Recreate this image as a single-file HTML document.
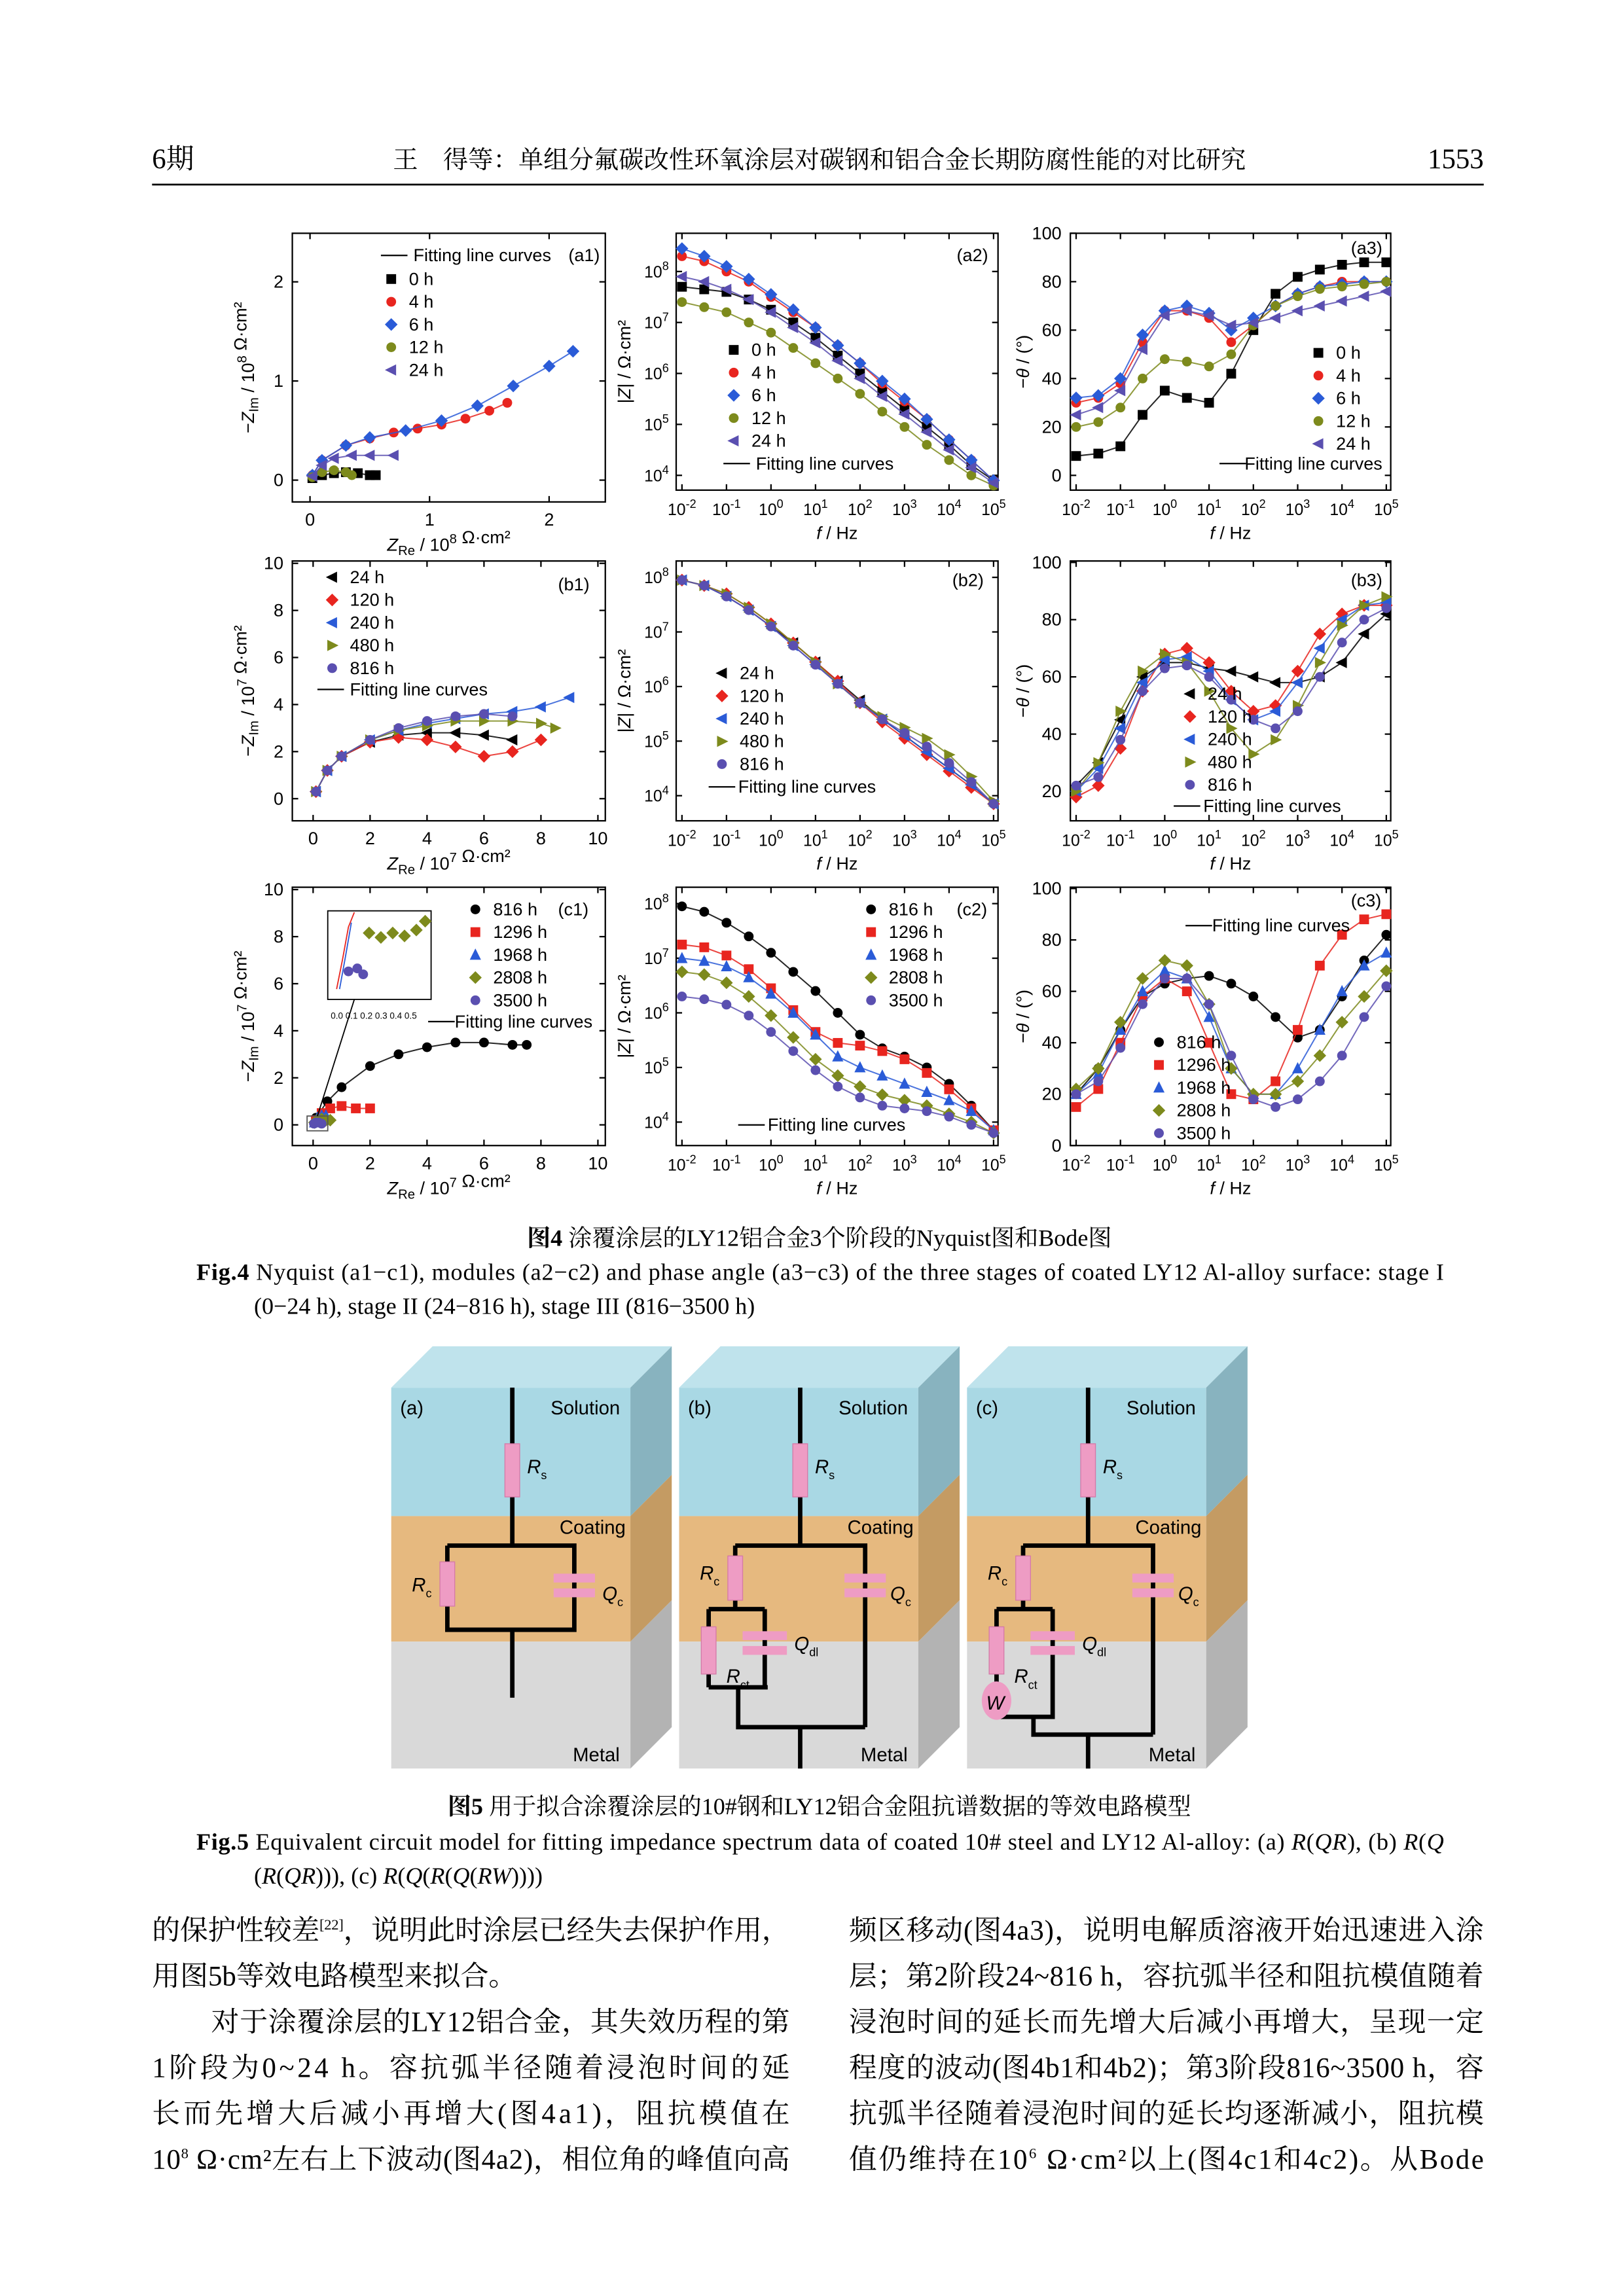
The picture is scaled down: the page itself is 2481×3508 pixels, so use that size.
<!DOCTYPE html>
<html><head><meta charset="utf-8">
<style>
html,body{margin:0;padding:0;background:#fff;}
svg{display:block;}
</style></head>
<body>
<svg id="page" xmlns="http://www.w3.org/2000/svg" width="2481" height="3508" viewBox="0 0 1100 1555.3" font-family="'Liberation Sans', sans-serif">
<rect x="0" y="0" width="1100" height="1556" fill="#fff"/>
<g font-family="'Liberation Serif','Noto Serif CJK SC',serif">
<text x="103" y="114" font-size="19">6期</text>
<text x="555" y="114" font-size="17" text-anchor="middle">王　得等：单组分氟碳改性环氧涂层对碳钢和铝合金长期防腐性能的对比研究</text>
<text x="1005" y="114" font-size="19" text-anchor="end">1553</text>
<line x1="103" y1="125" x2="1005" y2="125" stroke="#000" stroke-width="1.2"/>
</g>
<g id="charts"></g>
<g id="circuits"></g>
<g font-family="'Liberation Serif','Noto Serif CJK SC',serif">
<text x="555" y="844" font-size="16" text-anchor="middle"><tspan font-weight="bold">图4</tspan> 涂覆涂层的LY12铝合金3个阶段的Nyquist图和Bode图</text>
<text x="133" y="867" font-size="16" textLength="845" lengthAdjust="spacing"><tspan font-weight="bold">Fig.4</tspan> Nyquist (a1−c1), modules (a2−c2) and phase angle (a3−c3) of the three stages of coated LY12 Al-alloy surface: stage I</text>
<text x="172" y="890" font-size="16">(0−24 h), stage II (24−816 h), stage III (816−3500 h)</text>
<text x="555" y="1229" font-size="16" text-anchor="middle"><tspan font-weight="bold">图5</tspan> 用于拟合涂覆涂层的10#钢和LY12铝合金阻抗谱数据的等效电路模型</text>
<text x="133" y="1253" font-size="16" textLength="845" lengthAdjust="spacing"><tspan font-weight="bold">Fig.5</tspan> Equivalent circuit model for fitting impedance spectrum data of coated 10# steel and LY12 Al-alloy: (a) <tspan font-style="italic">R</tspan>(<tspan font-style="italic">QR</tspan>), (b) <tspan font-style="italic">R</tspan>(<tspan font-style="italic">Q</tspan></text>
<text x="172" y="1276" font-size="16">(<tspan font-style="italic">R</tspan>(<tspan font-style="italic">QR</tspan>))), (c) <tspan font-style="italic">R</tspan>(<tspan font-style="italic">Q</tspan>(<tspan font-style="italic">R</tspan>(<tspan font-style="italic">Q</tspan>(<tspan font-style="italic">RW</tspan>))))</text>
</g>
<g font-family="'Liberation Serif','Noto Serif CJK SC',serif" font-size="19">
<text x="103" y="1314" textLength="432" lengthAdjust="spacing">的保护性较差<tspan dy="-7" font-size="10">[22]</tspan><tspan dy="7">，说明此时涂层已经失去保护作用，</tspan></text>
<text x="103" y="1345">用图5b等效电路模型来拟合。</text>
<text x="143" y="1376" textLength="392" lengthAdjust="spacing">对于涂覆涂层的LY12铝合金，其失效历程的第</text>
<text x="103" y="1407" textLength="432" lengthAdjust="spacing">1阶段为0~24 h。容抗弧半径随着浸泡时间的延</text>
<text x="103" y="1438" textLength="432" lengthAdjust="spacing">长而先增大后减小再增大(图4a1)，阻抗模值在</text>
<text x="103" y="1469" textLength="432" lengthAdjust="spacing">10<tspan dy="-7" font-size="10">8</tspan><tspan dy="7"> Ω·cm²左右上下波动(图4a2)，相位角的峰值向高</tspan></text>
<text x="575" y="1314" textLength="430" lengthAdjust="spacing">频区移动(图4a3)，说明电解质溶液开始迅速进入涂</text>
<text x="575" y="1345" textLength="430" lengthAdjust="spacing">层；第2阶段24~816 h，容抗弧半径和阻抗模值随着</text>
<text x="575" y="1376" textLength="430" lengthAdjust="spacing">浸泡时间的延长而先增大后减小再增大，呈现一定</text>
<text x="575" y="1407" textLength="430" lengthAdjust="spacing">程度的波动(图4b1和4b2)；第3阶段816~3500 h，容</text>
<text x="575" y="1438" textLength="430" lengthAdjust="spacing">抗弧半径随着浸泡时间的延长均逐渐减小，阻抗模</text>
<text x="575" y="1469" textLength="430" lengthAdjust="spacing">值仍维持在10<tspan dy="-7" font-size="10">6</tspan><tspan dy="7"> Ω·cm²以上(图4c1和4c2)。从Bode</tspan></text>
</g>
</svg>
<script>
// ---------- data ----------
const LOGF = [-2,-1.5,-1,-0.5,0,0.5,1,1.5,2,2.5,3,3.5,4,4.5,5];
// a1 Nyquist (1e8 ohm cm2)
const A1_0H_RE = [0.02,0.1,0.2,0.3,0.4,0.5,0.55];
const A1_0H_IM = [0.02,0.05,0.07,0.08,0.07,0.05,0.05];
const A1_4H_RE = [0.02,0.1,0.3,0.5,0.7,0.9,1.1,1.3,1.5,1.65];
const A1_4H_IM = [0.05,0.2,0.35,0.42,0.48,0.52,0.56,0.62,0.7,0.78];
const A1_6H_RE = [0.02,0.1,0.3,0.5,0.8,1.1,1.4,1.7,2.0,2.2];
const A1_6H_IM = [0.05,0.2,0.35,0.43,0.5,0.6,0.75,0.95,1.15,1.3];
const A1_12H_RE = [0.02,0.1,0.2,0.3,0.35];
const A1_12H_IM = [0.03,0.08,0.1,0.08,0.05];
const A1_24H_RE = [0.02,0.1,0.2,0.35,0.5,0.7];
const A1_24H_IM = [0.04,0.15,0.22,0.25,0.25,0.25];
// a2 log|Z|
const A2_0H = [7.7,7.65,7.6,7.45,7.25,7.0,6.7,6.35,6.0,5.65,5.3,4.95,4.6,4.2,3.9];
const A2_4H = [8.3,8.2,8.0,7.8,7.5,7.2,6.9,6.55,6.2,5.8,5.45,5.1,4.7,4.3,3.9];
const A2_6H = [8.45,8.3,8.1,7.85,7.55,7.25,6.9,6.55,6.2,5.85,5.5,5.1,4.7,4.3,3.9];
const A2_12H = [7.4,7.3,7.2,7.0,6.8,6.5,6.2,5.9,5.6,5.25,4.95,4.6,4.3,4.0,3.8];
const A2_24H = [7.9,7.8,7.65,7.45,7.2,6.9,6.6,6.25,5.9,5.55,5.2,4.85,4.5,4.15,3.85];
// a3 phase
const A3_0H = [8,9,12,25,35,32,30,42,60,75,82,85,87,88,88];
const A3_4H = [30,32,38,55,68,68,65,55,62,70,75,78,80,80,80];
const A3_6H = [32,33,40,58,68,70,67,60,65,70,75,78,79,80,80];
const A3_12H = [20,22,28,40,48,47,45,50,62,70,74,77,78,79,80];
const A3_24H = [25,28,35,52,66,68,66,62,63,65,68,70,72,74,76];
// b1 Nyquist (1e7)
const B1_24H_RE = [0.1,0.5,1,2,3,4,5,6,7];
const B1_24H_IM = [0.3,1.2,1.8,2.4,2.7,2.8,2.8,2.7,2.5];
const B1_120H_RE = [0.1,0.5,1,2,3,4,5,6,7,8];
const B1_120H_IM = [0.3,1.2,1.8,2.4,2.6,2.5,2.2,1.8,2.0,2.5];
const B1_240H_RE = [0.1,0.5,1,2,3,4,5,6,7,8,9];
const B1_240H_IM = [0.3,1.2,1.8,2.5,2.9,3.2,3.4,3.6,3.7,3.9,4.3];
const B1_480H_RE = [0.1,0.5,1,2,3,4,5,6,7,8,8.5];
const B1_480H_IM = [0.3,1.2,1.8,2.5,2.9,3.1,3.3,3.3,3.3,3.2,3.0];
const B1_816H_RE = [0.1,0.5,1,2,3,4,5,6,7];
const B1_816H_IM = [0.3,1.2,1.8,2.5,3.0,3.3,3.5,3.6,3.5];
// b2 log|Z|
const B2_24H = [7.95,7.85,7.65,7.4,7.1,6.8,6.45,6.1,5.75,5.4,5.1,4.8,4.5,4.2,3.85];
const B2_120H = [7.95,7.85,7.7,7.45,7.15,6.8,6.45,6.1,5.7,5.35,5.05,4.75,4.45,4.15,3.85];
const B2_240H = [7.95,7.85,7.65,7.4,7.1,6.75,6.4,6.05,5.7,5.4,5.1,4.8,4.5,4.2,3.85];
const B2_480H = [7.95,7.85,7.7,7.45,7.15,6.8,6.45,6.05,5.7,5.45,5.25,5.05,4.75,4.35,3.9];
const B2_816H = [7.95,7.85,7.65,7.4,7.1,6.75,6.4,6.05,5.7,5.4,5.15,4.9,4.6,4.25,3.85];
// b3 phase
const B3_24H = [22,30,45,60,65,65,63,62,60,58,58,60,65,75,82];
const B3_120H = [18,22,35,55,68,70,65,55,48,50,62,75,82,85,85];
const B3_240H = [20,28,42,58,66,67,62,52,45,48,58,70,80,85,86];
const B3_480H = [20,30,48,62,68,65,55,42,33,38,50,65,78,85,88];
const B3_816H = [22,25,38,55,63,64,60,52,45,42,48,60,72,80,84];
// c1 Nyquist (1e7)
const C1_816H_RE = [0.1,0.5,1,2,3,4,5,6,7,7.5];
const C1_816H_IM = [0.3,1.0,1.6,2.5,3.0,3.3,3.5,3.5,3.4,3.4];
const C1_1296H_RE = [0.1,0.3,0.6,1,1.5,2];
const C1_1296H_IM = [0.2,0.5,0.7,0.8,0.7,0.7];
const C1_1968H_RE = [0.05,0.15,0.3,0.45];
const C1_1968H_IM = [0.1,0.3,0.4,0.4];
const C1_2808H_RE = [0.05,0.15,0.3,0.45,0.6];
const C1_2808H_IM = [0.1,0.2,0.25,0.2,0.2];
const C1_3500H_RE = [0.03,0.1,0.2,0.3];
const C1_3500H_IM = [0.05,0.1,0.1,0.05];
// c2 log|Z|
const C2_816H = [7.95,7.85,7.65,7.4,7.1,6.75,6.4,6.0,5.6,5.35,5.2,5.0,4.7,4.3,3.85];
const C2_1296H = [7.25,7.2,7.05,6.8,6.45,6.05,5.65,5.45,5.4,5.3,5.15,4.9,4.6,4.25,3.85];
const C2_1968H = [7.0,6.95,6.85,6.65,6.35,6.0,5.6,5.2,5.0,4.85,4.7,4.55,4.4,4.2,3.85];
const C2_2808H = [6.75,6.7,6.55,6.3,5.95,5.55,5.15,4.85,4.65,4.5,4.4,4.3,4.15,4.0,3.8];
const C2_3500H = [6.3,6.25,6.15,5.95,5.65,5.3,4.95,4.65,4.45,4.3,4.25,4.2,4.1,3.95,3.8];
// c3 phase
const C3_816H = [20,30,45,58,63,65,66,63,58,50,42,45,58,72,82];
const C3_1296H = [15,22,40,58,65,60,40,20,18,25,45,70,82,88,90];
const C3_1968H = [20,28,45,60,68,65,50,30,20,20,30,45,60,70,75];
const C3_2808H = [22,30,48,65,72,70,55,30,20,20,25,35,48,58,68];
const C3_3500H = [20,25,38,55,65,65,55,35,18,15,18,25,35,50,62];
const LABELS_A = ['0 h','4 h','6 h','12 h','24 h'];
const LABELS_B = ['24 h','120 h','240 h','480 h','816 h'];
const LABELS_C = ['816 h','1296 h','1968 h','2808 h','3500 h'];
const NYQ_TICKS_A = [0,1,2];
const NYQ_TICKS_B = [0,2,4,6,8,10];
const LOG_TICKS_X = [-2,-1,0,1,2,3,4,5];
const LOG_TICKS_Y = [4,5,6,7,8];
const PHASE_TICKS_A = [0,20,40,60,80,100];
const PHASE_TICKS_B = [20,40,60,80,100];

// ---------- drawing ----------
const NS = 'http://www.w3.org/2000/svg';
function mk(tag, attrs, parent){
  const e = document.createElementNS(NS, tag);
  for (const k in attrs) e.setAttribute(k, attrs[k]);
  if (parent) parent.appendChild(e);
  return e;
}
const COLORS = ['#000000','#e8251f','#2a5bd7','#7d8a1c','#5a4fb0'];
function marker(g, shape, x, y, c){
  const s = 3.3;
  let e;
  if (shape==='square') e = mk('rect',{x:x-s,y:y-s,width:2*s,height:2*s,fill:c},g);
  else if (shape==='circle') e = mk('circle',{cx:x,cy:y,r:s,fill:c},g);
  else if (shape==='diamond') e = mk('polygon',{points:`${x},${y-s-1} ${x+s+1},${y} ${x},${y+s+1} ${x-s-1},${y}`,fill:c},g);
  else if (shape==='tl') e = mk('polygon',{points:`${x-s-1},${y} ${x+s},${y-s-0.5} ${x+s},${y+s+0.5}`,fill:c},g);
  else if (shape==='tr') e = mk('polygon',{points:`${x+s+1},${y} ${x-s},${y-s-0.5} ${x-s},${y+s+0.5}`,fill:c},g);
  else e = mk('polygon',{points:`${x},${y-s-1} ${x+s+0.5},${y+s} ${x-s-0.5},${y+s}`,fill:c},g);
  
  
  return e;
}
function logLabel(g, x, y, exp, anchor){
  const t = mk('text',{x:x,y:y,'font-size':11,'text-anchor':anchor||'middle'},g);
  
  
  t.appendChild(document.createTextNode('10'));
  const sp = mk('tspan',{dy:-5,'font-size':8},t);
  sp.textContent = String(exp);
  return t;
}
const root = document.getElementById('charts');

function panel(p){
  const g = mk('g',{},root);
  
  
  const [x0,x1] = p.bx, [y0,y1] = p.by;
  const sx = v => x0 + (v - p.xd[0])/(p.xd[1]-p.xd[0])*(x1-x0);
  const sy = v => y1 - (v - p.yd[0])/(p.yd[1]-p.yd[0])*(y1-y0);
  const fr = mk('rect',{x:x0,y:y0,width:x1-x0,height:y1-y0,fill:'none',stroke:'#000','stroke-width':1},g);
  
  
  // x ticks
  p.xt.forEach(v=>{
    const X = sx(v);
    mk('line',{x1:X,y1:y1,x2:X,y2:y1-4,stroke:'#000','stroke-width':1},g);
    mk('line',{x1:X,y1:y0,x2:X,y2:y0+4,stroke:'#000','stroke-width':1},g);
    if (p.xlog) logLabel(g, X, y1+17, v);
    else { const t = mk('text',{x:X,y:y1+16,'font-size':12,'text-anchor':'middle'},g); t.textContent = v;
        }
  });
  p.yt.forEach(v=>{
    const Y = sy(v);
    mk('line',{x1:x0,y1:Y,x2:x0+4,y2:Y,stroke:'#000','stroke-width':1},g);
    mk('line',{x1:x1,y1:Y,x2:x1-4,y2:Y,stroke:'#000','stroke-width':1},g);
    if (p.ylog) logLabel(g, x0-5, Y+4, v, 'end');
    else { const t = mk('text',{x:x0-6,y:Y+4,'font-size':12,'text-anchor':'end'},g); t.textContent = v;
        }
  });
  // series
  p.series.forEach((s,i)=>{
    const sg = mk('g',{},g);
    
    
    const xs = s.x || LOGF;
    const pts = xs.map((xv,j)=>[sx(xv), sy(s.y[j])]);
    const ln = mk('polyline',{points:pts.map(q=>q.join(',')).join(' '),fill:'none',stroke:COLORS[i],'stroke-width':0.9,opacity:0.85},sg);
    
    
    pts.forEach(q=>marker(sg, p.shapes[i], q[0], q[1], COLORS[i]));
  });
  // legend
  const lg = mk('g',{'font-size':12},g);
  
  
  p.labels.forEach((l,i)=>{
    const Y = p.leg[1] + i*15.4;
    marker(lg, p.shapes[i], p.leg[0], Y-4, COLORS[i]);
    const t = mk('text',{x:p.leg[0]+12,y:Y},lg); t.textContent = l;
    
    
  });
  mk('line',{x1:p.fit[0],y1:p.fit[2]-4,x2:p.fit[0]+18,y2:p.fit[2]-4,stroke:'#000','stroke-width':1},lg);
  const ft = mk('text',{x:p.fit[1],y:p.fit[2]},lg); ft.textContent = 'Fitting line curves';
  
  
  const pl = mk('text',{x:p.tag[0],y:p.tag[1],'font-size':12},g); pl.textContent = p.tagText;
  
  
  // axis titles
  const xt = mk('text',{x:(x0+x1)/2,y:y1+33,'font-size':12,'text-anchor':'middle'},g);
  
  
  xt.innerHTML = p.xtitle;
  const ytx = p.ytx, yty = (y0+y1)/2;
  const yt = mk('text',{x:ytx,y:yty,'font-size':12,'text-anchor':'middle',transform:`rotate(-90 ${ytx} ${yty})`},g);
  
  
  yt.innerHTML = p.ytitle;
  return {g,sx,sy};
}
const sub = s => `<tspan dy="3" font-size="9">${s}</tspan><tspan dy="-3"> </tspan>`;
const sup = s => `<tspan dy="-5" font-size="9">${s}</tspan><tspan dy="5"></tspan>`;
const NX = [198,410], BX = [458,676], PX = [725,942];
const R1 = [158,332], R2 = [380,556], R3 = [601,776];
const BXD = [-2.13,5.1];

panel({name:'chart-a1-nyquist', bx:NX, by:[158,340], xd:[-0.148,2.47], yd:[-0.22,2.49], xt:NYQ_TICKS_A, yt:[0,1,2],
  series:[{x:A1_0H_RE,y:A1_0H_IM},{x:A1_4H_RE,y:A1_4H_IM},{x:A1_6H_RE,y:A1_6H_IM},{x:A1_12H_RE,y:A1_12H_IM},{x:A1_24H_RE,y:A1_24H_IM}],
  shapes:['square','circle','diamond','circle','tl'], labels:LABELS_A, leg:[265,193], fit:[258,280,177], tag:[385,177], tagText:'(a1)',
  xtitle:`<tspan font-style="italic">Z</tspan>${sub('Re')}/ 10${sup('8')} Ω·cm²`, ytx:172, ytitle:`−<tspan font-style="italic">Z</tspan>${sub('Im')}/ 10${sup('8')} Ω·cm²`});
panel({name:'chart-a2-modulus', bx:BX, by:R1, xd:BXD, yd:[3.71,8.75], xt:LOG_TICKS_X, yt:LOG_TICKS_Y, xlog:true, ylog:true,
  series:[{y:A2_0H},{y:A2_4H},{y:A2_6H},{y:A2_12H},{y:A2_24H}],
  shapes:['square','circle','diamond','circle','tl'], labels:LABELS_A, leg:[497,241], fit:[490,512,318], tag:[648,177], tagText:'(a2)',
  xtitle:'<tspan font-style="italic">f</tspan> / Hz', ytx:427, ytitle:'|<tspan font-style="italic">Z</tspan>| / Ω·cm²'});
panel({name:'chart-a3-phase', bx:PX, by:R1, xd:BXD, yd:[-6.1,100], xt:LOG_TICKS_X, yt:PHASE_TICKS_A, xlog:true,
  series:[{y:A3_0H},{y:A3_4H},{y:A3_6H},{y:A3_12H},{y:A3_24H}],
  shapes:['square','circle','diamond','circle','tl'], labels:LABELS_A, leg:[893,243], fit:[826,843,318], tag:[915,172], tagText:'(a3)',
  xtitle:'<tspan font-style="italic">f</tspan> / Hz', ytx:697, ytitle:'−<tspan font-style="italic">θ</tspan> / (°)'});
panel({name:'chart-b1-nyquist', bx:NX, by:R2, xd:[-0.73,10.26], yd:[-0.94,10.1], xt:NYQ_TICKS_B, yt:NYQ_TICKS_B,
  series:[{x:B1_24H_RE,y:B1_24H_IM},{x:B1_120H_RE,y:B1_120H_IM},{x:B1_240H_RE,y:B1_240H_IM},{x:B1_480H_RE,y:B1_480H_IM},{x:B1_816H_RE,y:B1_816H_IM}],
  shapes:['tl','diamond','tl','tr','circle'], labels:LABELS_B, leg:[225,395], fit:[215,237,471], tag:[378,400], tagText:'(b1)',
  xtitle:`<tspan font-style="italic">Z</tspan>${sub('Re')}/ 10${sup('7')} Ω·cm²`, ytx:172, ytitle:`−<tspan font-style="italic">Z</tspan>${sub('Im')}/ 10${sup('7')} Ω·cm²`});
panel({name:'chart-b2-modulus', bx:BX, by:R2, xd:BXD, yd:[3.54,8.3], xt:LOG_TICKS_X, yt:LOG_TICKS_Y, xlog:true, ylog:true,
  series:[{y:B2_24H},{y:B2_120H},{y:B2_240H},{y:B2_480H},{y:B2_816H}],
  shapes:['tl','diamond','tl','tr','circle'], labels:LABELS_B, leg:[489,460], fit:[480,500,537], tag:[645,397], tagText:'(b2)',
  xtitle:'<tspan font-style="italic">f</tspan> / Hz', ytx:427, ytitle:'|<tspan font-style="italic">Z</tspan>| / Ω·cm²'});
panel({name:'chart-b3-phase', bx:PX, by:R2, xd:BXD, yd:[9.7,100.5], xt:LOG_TICKS_X, yt:PHASE_TICKS_B, xlog:true,
  series:[{y:B3_24H},{y:B3_120H},{y:B3_240H},{y:B3_480H},{y:B3_816H}],
  shapes:['tl','diamond','tl','tr','circle'], labels:LABELS_B, leg:[806,474], fit:[795,815,550], tag:[915,397], tagText:'(b3)',
  xtitle:'<tspan font-style="italic">f</tspan> / Hz', ytx:697, ytitle:'−<tspan font-style="italic">θ</tspan> / (°)'});
const c1 = panel({name:'chart-c1-nyquist', bx:NX, by:R3, xd:[-0.73,10.26], yd:[-0.88,10.1], xt:NYQ_TICKS_B, yt:NYQ_TICKS_B,
  series:[{x:C1_816H_RE,y:C1_816H_IM},{x:C1_1296H_RE,y:C1_1296H_IM},{x:C1_1968H_RE,y:C1_1968H_IM},{x:C1_2808H_RE,y:C1_2808H_IM},{x:C1_3500H_RE,y:C1_3500H_IM}],
  shapes:['circle','square','tu','diamond','circle'], labels:LABELS_C, leg:[322,620], fit:[290,308,696], tag:[378,620], tagText:'(c1)',
  xtitle:`<tspan font-style="italic">Z</tspan>${sub('Re')}/ 10${sup('7')} Ω·cm²`, ytx:172, ytitle:`−<tspan font-style="italic">Z</tspan>${sub('Im')}/ 10${sup('7')} Ω·cm²`});
// inset in c1
(function(){
  const ig = mk('g',{},c1.g);
  
  
  mk('rect',{x:222,y:617,width:70,height:60,fill:'#fff',stroke:'#000','stroke-width':0.8},ig);
  mk('rect',{x:208,y:756,width:14,height:10,fill:'none',stroke:'#555','stroke-width':0.8},ig);
  mk('line',{x1:215,y1:756,x2:240,y2:677,stroke:'#000','stroke-width':0.8},ig);
  mk('polyline',{points:'228,670 232,650 236,628 240,618',fill:'none',stroke:'#e8251f','stroke-width':0.8},ig);
  mk('polyline',{points:'230,670 234,648 238,625',fill:'none',stroke:'#2a5bd7','stroke-width':0.8},ig);
  [[250,632],[258,635],[266,632],[274,634],[282,630],[288,624]].forEach(q=>marker(ig,'diamond',q[0],q[1],'#7d8a1c'));
  [[236,658],[242,656],[246,660]].forEach(q=>marker(ig,'circle',q[0],q[1],'#5a4fb0'));
  const t = mk('text',{x:224,y:690,'font-size':6},ig); t.textContent = '0.0 0.1 0.2 0.3 0.4 0.5';
   
})();
panel({name:'chart-c2-modulus', bx:BX, by:R3, xd:BXD, yd:[3.57,8.3], xt:LOG_TICKS_X, yt:LOG_TICKS_Y, xlog:true, ylog:true,
  series:[{y:C2_816H},{y:C2_1296H},{y:C2_1968H},{y:C2_2808H},{y:C2_3500H}],
  shapes:['circle','square','tu','diamond','circle'], labels:LABELS_C, leg:[590,620], fit:[500,520,766], tag:[648,620], tagText:'(c2)',
  xtitle:'<tspan font-style="italic">f</tspan> / Hz', ytx:427, ytitle:'|<tspan font-style="italic">Z</tspan>| / Ω·cm²'});
panel({name:'chart-c3-phase', bx:PX, by:R3, xd:BXD, yd:[0,100.5], xt:LOG_TICKS_X, yt:PHASE_TICKS_A, xlog:true,
  series:[{y:C3_816H},{y:C3_1296H},{y:C3_1968H},{y:C3_2808H},{y:C3_3500H}],
  shapes:['circle','square','tu','diamond','circle'], labels:LABELS_C, leg:[785,710], fit:[803,821,631], tag:[915,614], tagText:'(c3)',
  xtitle:'<tspan font-style="italic">f</tspan> / Hz', ytx:697, ytitle:'−<tspan font-style="italic">θ</tspan> / (°)'});

// ---------- circuits ----------
const cg = document.getElementById('circuits');
const PINK = '#ee9cc4';
function res(g,x,y,w,h){ const r = mk('rect',{x:x,y:y,width:w,height:h,fill:PINK,stroke:'#d57aa8','stroke-width':0.6},g);
    }
function cap(g,x,y,w){ mk('rect',{x:x,y:y,width:w,height:6,fill:PINK},g); mk('rect',{x:x,y:y+10,width:w,height:6,fill:PINK},g); }
function wire(g,pts){ mk('polyline',{points:pts,fill:'none',stroke:'#000','stroke-width':3},g); }
function lbl(g,x,y,main,s,size){ const t = mk('text',{x:x,y:y,'font-size':size||13,'font-style':'italic'},g);
   
  t.innerHTML = main + (s?`<tspan dy="4" font-size="8" font-style="normal">${s}</tspan>`:''); }
['a','b','c'].forEach((k,i)=>{
  const ox = 265 + i*195;
  const g = mk('g',{},cg);
  
  
  mk('polygon',{points:`${ox},940 ${ox+28},912 ${ox+190},912 ${ox+162},940`,fill:'#bfe3ec'},g);
  [[940,1027,'#a9d8e4','#88b3bf'],[1027,1112,'#e6b97f','#c49b63'],[1112,1198,'#d9d9d9','#b3b3b3']].forEach(L=>{
    mk('rect',{x:ox,y:L[0],width:162,height:L[1]-L[0],fill:L[2]},g);
    mk('polygon',{points:`${ox+162},${L[0]} ${ox+190},${L[0]-28} ${ox+190},${L[1]-28} ${ox+162},${L[1]}`,fill:L[3]},g);
  });
  const tx = (x,y,s)=>{ const t = mk('text',{x:x,y:y,'font-size':13},g); t.textContent = s;
      };
  tx(ox+6,958,'('+k+')'); tx(ox+108,958,'Solution'); tx(ox+114,1039,'Coating'); tx(ox+123,1193,'Metal');
  const cx = ox+82;
  if (k==='a'){
    wire(g,`${cx},940 ${cx},1047`);
    wire(g,`${ox+38},1047 ${ox+124},1047 ${ox+124},1104 ${ox+38},1104 ${ox+38},1047`);
    wire(g,`${cx},1104 ${cx},1150`);
    res(g,ox+33,1058,10,30); cap(g,ox+110,1066,28);
    lbl(g,ox+14,1078,'R','c'); lbl(g,ox+143,1084,'Q','c');
  } else {
    wire(g,`${cx},940 ${cx},1047`);
    wire(g,`${ox+38},1047 ${ox+126},1047 ${ox+126},${k==='b'?1170:1175}`);
    wire(g,`${ox+38},1047 ${ox+38},1090`);
    wire(g,`${ox+20},1090 ${ox+58},1090`);
    wire(g,`${ox+20},1090 ${ox+20},${k==='b'?1143:1160}`);
    wire(g,`${ox+58},1090 ${ox+58},1143`);
    if (k==='b'){
      wire(g,`${ox+20},1143 ${ox+60},1143`);
      wire(g,`${ox+40},1143 ${ox+40},1170 ${ox+126},1170`);
      wire(g,`${cx},1170 ${cx},1198`);
    } else {
      wire(g,`${ox+20},1163 ${ox+58},1163 ${ox+58},1143`);
      wire(g,`${ox+45},1163 ${ox+45},1175 ${ox+126},1175`);
      wire(g,`${cx},1175 ${cx},1198`);
      const w = mk('ellipse',{cx:ox+20,cy:1152,rx:10,ry:13,fill:PINK},g);
       
      lbl(g,ox+13,1158,'W','');
    }
    res(g,ox+33,1054,10,30); cap(g,ox+112,1066,28);
    res(g,ox+15,1102,10,32); cap(g,ox+43,1105,30);
    lbl(g,ox+14,1070,'R','c'); lbl(g,ox+143,1084,'Q','c');
    lbl(g,ox+78,1118,'Q','dl'); lbl(g,ox+32,1140,'R','ct');
  }
  res(g,cx-5,978,10,36);
  lbl(g,cx+10,998,'R','s');
});
</script>
</body></html>
